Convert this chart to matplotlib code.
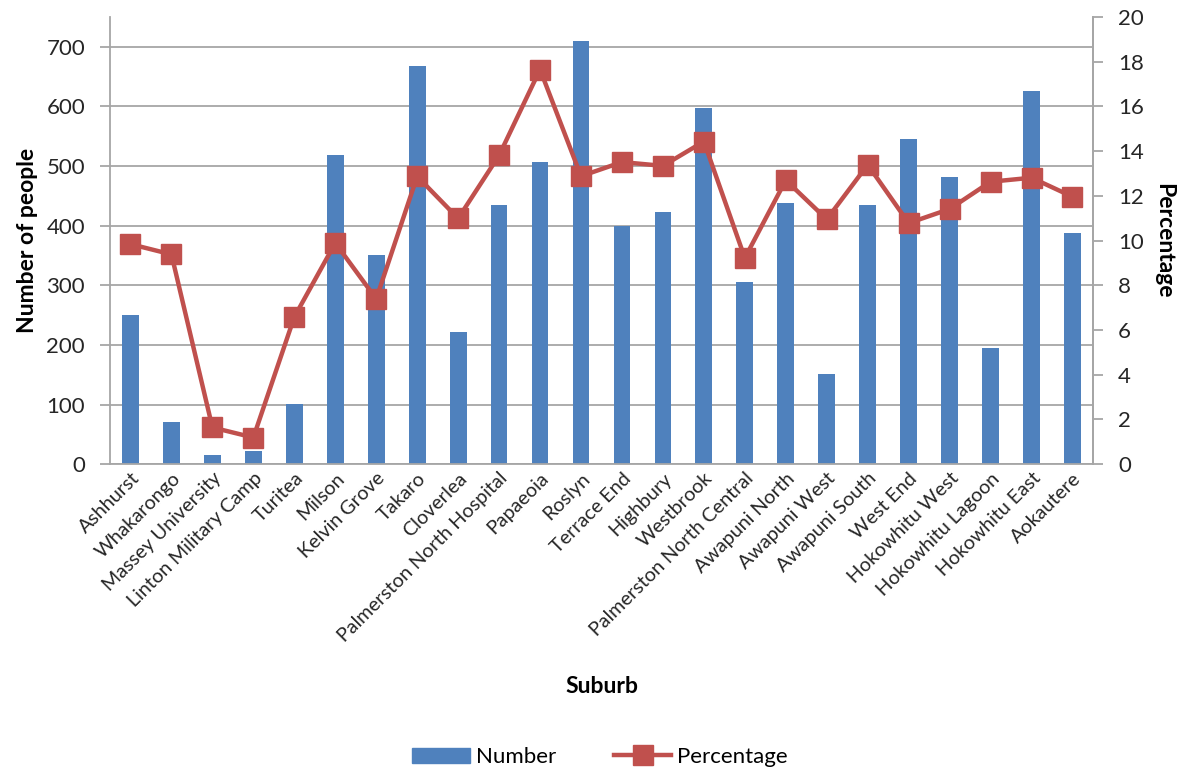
import matplotlib
matplotlib.use("Agg")
import matplotlib.pyplot as plt
from matplotlib.lines import Line2D
from matplotlib.patches import Patch
import numpy as np

suburbs = ["Ashhurst", "Whakarongo", "Massey University", "Linton Military Camp",
           "Turitea", "Milson", "Kelvin Grove", "Takaro", "Cloverlea",
           "Palmerston North Hospital", "Papaeoia", "Roslyn", "Terrace End",
           "Highbury", "Westbrook", "Palmerston North Central", "Awapuni North",
           "Awapuni West", "Awapuni South", "West End", "Hokowhitu West",
           "Hokowhitu Lagoon", "Hokowhitu East", "Aokautere"]
number = [250, 71, 15, 22, 101, 518, 351, 667, 222, 434, 507, 709, 399,
          423, 597, 306, 438, 151, 435, 546, 481, 194, 626, 388]
percentage = [9.84, 9.38, 1.64, 1.19, 6.58, 9.89, 7.39, 12.87, 10.99, 13.81,
              17.65, 12.88, 13.51, 13.34, 14.43, 9.22, 12.70, 10.95, 13.39,
              10.78, 11.41, 12.63, 12.81, 11.96]

BLUE = "#4F81BD"
RED = "#C0504D"
GRID = "#A6A6A6"
TXT = "#262626"

plt.rcParams["font.family"] = ["Lato", "DejaVu Sans"]

fig = plt.figure(figsize=(11.88, 7.71), dpi=100)
ax = fig.add_axes([0.0926, 0.398, 0.8274, 0.58])
ax2 = ax.twinx()

x = np.arange(len(suburbs))
ax.bar(x, number, width=0.41, color=BLUE, zorder=2)
ax.set_ylim(0, 750)
ax.set_xlim(-0.5, len(suburbs) - 0.5)
ax.set_yticks(range(0, 701, 100))
ax.yaxis.grid(True, color=GRID, linewidth=1.3, zorder=0)
ax.set_axisbelow(True)

ax2.plot(x, percentage, color=RED, linewidth=3.2, marker="s", markersize=15,
         markerfacecolor=RED, markeredgecolor=RED, zorder=3)
ax2.set_ylim(0, 20)
ax2.set_yticks(range(0, 21, 2))

for a in (ax, ax2):
    a.spines["top"].set_visible(False)
    for s in ("left", "right", "bottom"):
        a.spines[s].set_color(GRID)
        a.spines[s].set_linewidth(1.3)
ax2.spines["left"].set_visible(False)
ax2.spines["bottom"].set_visible(False)

ax.tick_params(axis="y", length=7, width=1.3, color=GRID, labelsize=16,
               labelcolor=TXT, pad=11)
ax2.tick_params(axis="y", length=7, width=1.3, color=GRID, labelsize=16,
                labelcolor=TXT, pad=11)
ax.tick_params(axis="x", length=0, pad=4)
ax.set_xticks(x)
ax.set_xticklabels(suburbs, rotation=45, ha="right", rotation_mode="anchor",
                   fontsize=14.2, color=TXT)

ax.set_ylabel("Number of people", fontsize=16.5, fontweight="bold", labelpad=6)
ax2.set_ylabel("Percentage", fontsize=16.5, fontweight="bold", rotation=270,
               labelpad=22)
ax.set_xlabel("Suburb", fontsize=16.5, fontweight="bold", labelpad=22)

handles = [Patch(facecolor=BLUE, edgecolor=BLUE),
           Line2D([], [], color=RED, linewidth=3.2, marker="s", markersize=14)]
fig.legend(handles, ["Number", "Percentage"], loc="center",
           bbox_to_anchor=(0.505, 0.018), ncol=2, frameon=False, fontsize=16,
           handlelength=2.6, handletextpad=0.25, columnspacing=2.6)

fig.savefig("out.png", dpi=100)
